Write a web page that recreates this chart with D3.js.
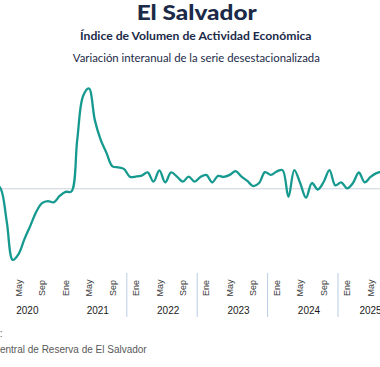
<!DOCTYPE html>
<html>
<head>
<meta charset="utf-8">
<script src="https://cdn.jsdelivr.net/npm/d3@7"></script>
<style>
  html, body { margin: 0; padding: 0; background: #ffffff; }
  svg { display: block; }
</style>
</head>
<body>
<div id="chart"></div>
<script>
// ---- Data ----
const title = "El Salvador";
const subtitle1 = "Índice de Volumen de Actividad Económica";
const subtitle2 = "Variación interanual de la serie desestacionalizada";
const sourceLines = ["Fuente:", "Banco Central de Reserva de El Salvador"];

const monthNames = ["Ene","Feb","Mar","Abr","May","Jun","Jul","Ago","Sep","Oct","Nov","Dic"];
const tickMonthNames = ["Ene","May","Sep"];
const years = [2020, 2021, 2022, 2023, 2024, 2025];
const separatorYears = [2022, 2023, 2024, 2025];
const lastCategory = { year: 2025, month: 8 }; // axis runs Ene 2020 – Sep 2025

// Year-on-year variation (%), monthly from Ene 2020
const values = [
   2.0, -0.1, -9.8, -20.9, -19.2, -14.8, -10.9, -6.8, -4.2, -3.6, -4.0, -2.1,   // 2020
  -0.9, -0.8, 14.4, 27.3, 29.5, 20.2, 14.4, 10.5, 6.6, 6.3, 5.8, 3.5,           // 2021
   3.6, 3.9, 4.8, 2.1, 5.4, 1.9, 4.8, 3.6, 2.1, 3.6, 2.1, 3.5,                  // 2022
   4.1, 1.9, 3.8, 3.5, 4.1, 5.2, 3.6, 2.3, 0.8, 1.7, 4.9, 4.1,                  // 2023
   5.1, 5.5, -2.4, 5.5, 1.7, -2.6, 1.7, -0.2, 2.0, 5.5, 1.0, 1.9,               // 2024
   0.1, 1.7, 4.8, 1.9, 3.5, 4.6, 5.1                                            // 2025
];

// ---- Layout / style ----
const W = 380, H = 367;
const navy = "#1b2a48";
const teal = "#16998f";

const categories = [];
for (const yr of years) {
  for (let m = 0; m < 12; m++) {
    if (yr === lastCategory.year && m > lastCategory.month) break;
    categories.push({ year: yr, month: m, label: monthNames[m] });
  }
}
const series = values.map((v, i) => ({ i, v }));

const svg = d3.select("#chart").append("svg")
  .attr("width", W).attr("height", H)
  .style("background", "#fff");

const x = d3.scaleLinear().domain([12, 60]).range([65.5, 347.1]);
const y = d3.scaleLinear().domain([-25, 35]).range([273.8, 69.8]);

// Titles
svg.append("text")
  .attr("x", 196.7).attr("y", 20.3)
  .attr("text-anchor", "middle")
  .attr("font-family", "Lato, 'Open Sans', sans-serif")
  .attr("font-weight", 900)
  .attr("font-size", 20)
  .attr("fill", navy)
  .attr("textLength", 120).attr("lengthAdjust", "spacingAndGlyphs")
  .text(title);

svg.append("text")
  .attr("x", 195.8).attr("y", 40)
  .attr("text-anchor", "middle")
  .attr("font-family", "Lato, 'Open Sans', sans-serif")
  .attr("font-weight", 700)
  .attr("font-size", 11)
  .attr("fill", navy)
  .attr("textLength", 231.5).attr("lengthAdjust", "spacingAndGlyphs")
  .text(subtitle1);

svg.append("text")
  .attr("x", 196.3).attr("y", 61.5)
  .attr("text-anchor", "middle")
  .attr("font-family", "Lato, 'Open Sans', sans-serif")
  .attr("font-weight", 400)
  .attr("font-size", 11)
  .attr("fill", navy)
  .attr("textLength", 247).attr("lengthAdjust", "spacingAndGlyphs")
  .text(subtitle2);

// Zero line
svg.append("line")
  .attr("x1", 0).attr("x2", W)
  .attr("y1", y(0)).attr("y2", y(0))
  .attr("stroke", "#cbd2dc").attr("stroke-width", 1);

// Series line
const line = d3.line()
  .defined(d => d.v != null)
  .x(d => x(d.i))
  .y(d => y(d.v))
  .curve(d3.curveCatmullRom.alpha(0.5));

svg.append("path")
  .datum(series)
  .attr("d", line)
  .attr("fill", "none")
  .attr("stroke", teal)
  .attr("stroke-width", 2.3)
  .attr("stroke-linejoin", "round")
  .attr("stroke-linecap", "round");

// Month tick labels (only those whose position falls inside the picture)
const tickCats = categories
  .map((c, i) => ({ ...c, i }))
  .filter(c => tickMonthNames.includes(c.label))
  .filter(c => x(c.i) >= 0 && x(c.i) <= W);

svg.append("g").selectAll("text")
  .data(tickCats)
  .join("text")
  .attr("transform", d => `translate(${x(d.i)},288) rotate(-90)`)
  .attr("text-anchor", "middle")
  .attr("dy", "0.35em")
  .attr("font-family", "'Liberation Sans', Arial, sans-serif")
  .attr("font-size", 9)
  .attr("fill", "#3a3a3a")
  .text(d => d.label);

// Year separators
const sepOffset = -1.55;
svg.append("g").selectAll("line")
  .data(separatorYears)
  .join("line")
  .attr("x1", yr => x((yr - years[0]) * 12 + sepOffset))
  .attr("x2", yr => x((yr - years[0]) * 12 + sepOffset))
  .attr("y1", 273).attr("y2", 317)
  .attr("stroke", "#b9cde6").attr("stroke-width", 1);

// Year labels
const yearCenters = years.map(yr => {
  const idx = categories.map((c, i) => c.year === yr ? i : null).filter(v => v != null);
  return { yr, c: (d3.min(idx) + d3.max(idx)) / 2 };
});
svg.append("g").selectAll("text")
  .data(yearCenters)
  .join("text")
  .attr("x", d => x(d.c))
  .attr("y", 314)
  .attr("text-anchor", "middle")
  .attr("font-family", "'Liberation Sans', Arial, sans-serif")
  .attr("font-size", 10)
  .attr("fill", "#1a1a1a")
  .text(d => d.yr);

// Source
svg.append("text")
  .attr("x", 2.5).attr("y", 337)
  .attr("text-anchor", "end")
  .attr("font-family", "'Liberation Sans', Arial, sans-serif")
  .attr("font-size", 10)
  .attr("fill", "#595959")
  .text(sourceLines[0]);
svg.append("text")
  .attr("x", 146.7).attr("y", 352.5)
  .attr("text-anchor", "end")
  .attr("font-family", "'Liberation Sans', Arial, sans-serif")
  .attr("font-size", 10)
  .attr("fill", "#595959")
  .text(sourceLines[1]);
</script>
</body>
</html>
